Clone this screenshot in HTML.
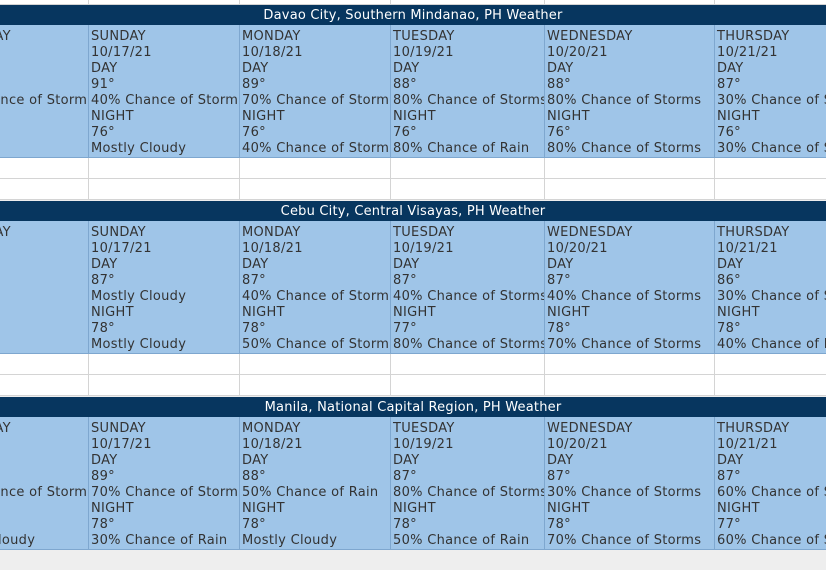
<!DOCTYPE html>
<html><head><meta charset="utf-8">
<style>
body{margin:0;width:826px;height:570px;overflow:hidden;background:#eeeeee;position:relative;font-family:"DejaVu Sans","Liberation Sans",sans-serif;}
.abs{position:absolute;box-sizing:border-box;}
.hdr{background:#07365f;color:#fff;font-size:13px;line-height:16px;padding-top:3px;text-align:center;letter-spacing:0.2px;}
.cell{background:#9fc5e8;border-right:1px solid #7ea7cf;border-bottom:1px solid #7ea7cf;overflow:hidden;white-space:nowrap;color:#333;font-size:13px;line-height:16px;padding:4px 0 0 2px;letter-spacing:0.3px;}
.cell.last{border-right:none;}
.wcell{background:#fff;border-right:1px solid #d4d4d4;border-bottom:1px solid #d4d4d4;}
.wcell.last{border-right:none;}
</style></head><body>
<script>
const cols=[-62,89,240,391,545,715,826];
const cities=["Davao City, Southern Mindanao, PH Weather","Cebu City, Central Visayas, PH Weather","Manila, National Capital Region, PH Weather"];
const days=["SATURDAY","SUNDAY","MONDAY","TUESDAY","WEDNESDAY","THURSDAY"];
const dates=["10/16/21","10/17/21","10/18/21","10/19/21","10/20/21","10/21/21"];
const dayT=[["90°","91°","89°","88°","88°","87°"],["86°","87°","87°","87°","87°","86°"],["88°","89°","88°","87°","87°","87°"]];
const dayC=[["40% Chance of Storm","40% Chance of Storm","70% Chance of Storm","80% Chance of Storms","80% Chance of Storms","30% Chance of Storms"],
["Cloudy","Mostly Cloudy","40% Chance of Storm","40% Chance of Storms","40% Chance of Storms","30% Chance of Storms"],
["40% Chance of Storm","70% Chance of Storm","50% Chance of Rain","80% Chance of Storms","30% Chance of Storms","60% Chance of Storms"]];
const nightT=[["76°","76°","76°","76°","76°","76°"],["78°","78°","78°","77°","78°","78°"],["78°","78°","78°","78°","78°","77°"]];
const nightC=[["Cloudy","Mostly Cloudy","40% Chance of Storm","80% Chance of Rain","80% Chance of Storms","30% Chance of Storms"],
["Cloudy","Mostly Cloudy","50% Chance of Storm","80% Chance of Storms","70% Chance of Storms","40% Chance of Rain"],
["Mostly Cloudy","30% Chance of Rain","Mostly Cloudy","50% Chance of Rain","70% Chance of Storms","60% Chance of Storms"]];
function mk(cls,x,y,w,h){const d=document.createElement('div');d.className='abs '+cls;d.style.left=x+'px';d.style.top=y+'px';d.style.width=w+'px';d.style.height=h+'px';document.body.appendChild(d);return d;}
for(let c=0;c<6;c++){const d=mk('wcell'+(c==5?' last':''),cols[c],-16,cols[c+1]-cols[c],21);

}
for(let s=0;s<3;s++){
 const y0=5+s*196;
 const h=mk('hdr',0,y0,826,20);h.textContent=cities[s];
 
 
 for(let c=0;c<6;c++){
  const d=mk('cell'+(c==5?' last':''),cols[c],y0+20,cols[c+1]-cols[c],133);
  d.innerHTML=[days[c],dates[c],"DAY",dayT[s][c],dayC[s][c],"NIGHT",nightT[s][c],nightC[s][c]].join('<br>');
  
  
 }
 if(s<2){for(let r=0;r<2;r++)for(let c=0;c<6;c++){
  const d=mk('wcell'+(c==5?' last':''),cols[c],y0+153+r*21,cols[c+1]-cols[c],21);
  
  }}
}
</script>
</body></html>
